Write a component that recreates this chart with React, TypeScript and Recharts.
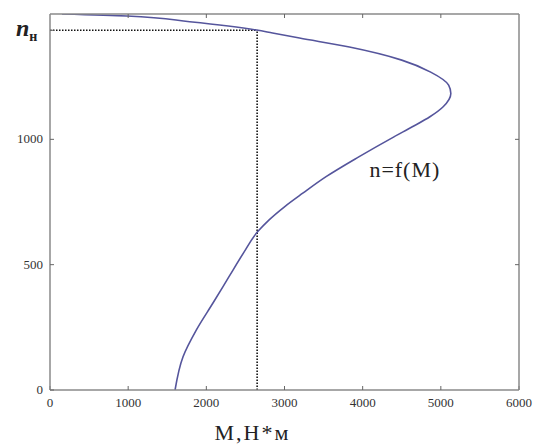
import React from 'react';
import { LineChart, Line, XAxis, YAxis, ReferenceLine, ReferenceDot, Label } from 'recharts';

// speed n (rpm) along the curve, ascending
const speed = [0, 133, 240, 347, 452, 546, 631, 678, 731, 785, 851, 930, 1010, 1050, 1090, 1130, 1183, 1216, 1268, 1316, 1368, 1404, 1424, 1436, 1469, 1492, 1500];
// torque M (N*m) at each speed
const torque = [1600, 1702, 1873, 2085, 2290, 2474, 2655, 2800, 3000, 3234, 3532, 3950, 4400, 4635, 4860, 5030, 5128, 5100, 4870, 4500, 3830, 3192, 2847, 2643, 1787, 983, 153];

const xTicks = [0, 1000, 2000, 3000, 4000, 5000, 6000];
const xTopTicks = [1000, 2000, 3000, 4000, 5000];
const yTicks = [0, 500, 1000];
const yRightTicks = [500, 1000];
const nNominal = 1435;
const mNominal = 2650;
const curveLabel = 'n=f(M)';
const curveLabelAt = { M: 4540, n: 880 };
const xAxisTitle = 'M,H*м';

const data = speed.map((n, i) => ({ n, M: torque[i] }));

const SERIF = '"Liberation Serif", "Times New Roman", serif';
const AXIS = '#8a8a8a';

const LeftTick = (props: any) => {
  const { x, y, payload } = props;
  if (payload.value === nNominal) {
    return (
      <text x={16} y={y} dy={6} fontFamily={SERIF} fill="#222" textAnchor="start">
        <tspan fontSize={24} fontStyle="italic" fontWeight="bold">n</tspan>
        <tspan fontSize={14} fontWeight="bold" dy={5}>н</tspan>
      </text>
    );
  }
  return (
    <text x={x} y={y} dy={4} textAnchor="end" fontFamily={SERIF} fontSize={13} fill="#333">
      {payload.value}
    </text>
  );
};

export default function App() {
  return (
    <div style={{ position: 'absolute', left: 0, top: 0, background: '#fff' }}>
      <LineChart
        width={533}
        height={446}
        layout="vertical"
        data={data}
        margin={{ top: 13, right: 13, bottom: 0, left: 0 }}
      >
        <XAxis
          xAxisId="b"
          type="number"
          domain={[0, 6000]}
          ticks={xTicks}
          orientation="bottom"
          height={56}
          tickSize={-4}
          tickMargin={12}
          axisLine={{ stroke: AXIS, strokeWidth: 1.5 }}
          tickLine={{ stroke: '#666' }}
          tick={{ fontFamily: SERIF, fontSize: 13, fill: '#333' }}
          allowDataOverflow
        >
          <Label
            value={xAxisTitle}
            position="insideBottom"
            offset={6}
            dx={-32}
            style={{ fontFamily: SERIF, fontSize: 22, fill: '#222', letterSpacing: 2 }}
          />
        </XAxis>
        <XAxis
          xAxisId="t"
          type="number"
          domain={[0, 6000]}
          ticks={xTopTicks}
          orientation="top"
          height={1}
          tickSize={-4}
          tickMargin={0}
          tickFormatter={() => ''}
          axisLine={{ stroke: AXIS, strokeWidth: 1.5 }}
          tickLine={{ stroke: '#666' }}
          allowDataOverflow
        />
        <YAxis
          yAxisId="l"
          type="number"
          dataKey="n"
          domain={[0, 1500]}
          reversed
          ticks={[...yTicks, nNominal]}
          width={50}
          tickSize={-4}
          tickMargin={11}
          axisLine={{ stroke: AXIS, strokeWidth: 1.5 }}
          tickLine={{ stroke: '#666' }}
          tick={<LeftTick />}
          allowDataOverflow
        />
        <YAxis
          yAxisId="r"
          type="number"
          dataKey="n"
          orientation="right"
          domain={[0, 1500]}
          reversed
          ticks={yRightTicks}
          width={1}
          tickSize={-4}
          tickMargin={0}
          tickFormatter={() => ''}
          axisLine={{ stroke: AXIS, strokeWidth: 1.5 }}
          tickLine={{ stroke: '#666' }}
          allowDataOverflow
        />
        <ReferenceLine
          xAxisId="b"
          yAxisId="l"
          segment={[{ x: 0, y: nNominal }, { x: mNominal, y: nNominal }]}
          stroke="#111"
          strokeWidth={1.6}
          strokeDasharray="1.5 1.5"
        />
        <ReferenceLine
          xAxisId="b"
          yAxisId="l"
          segment={[{ x: mNominal, y: 0 }, { x: mNominal, y: nNominal }]}
          stroke="#111"
          strokeWidth={1.6}
          strokeDasharray="1.5 1.5"
        />
        <Line
          xAxisId="b"
          yAxisId="l"
          dataKey="M"
          type="monotone"
          stroke="#55559c"
          strokeWidth={1.6}
          dot={false}
          isAnimationActive={false}
        />
        <ReferenceDot
          xAxisId="b"
          yAxisId="l"
          x={curveLabelAt.M}
          y={curveLabelAt.n}
          r={0}
          stroke="none"
          fill="none"
          label={{
            value: curveLabel,
            position: 'center',
            style: { fontFamily: SERIF, fontSize: 22, fill: '#222', letterSpacing: 1 },
          }}
        />
      </LineChart>
    </div>
  );
}
